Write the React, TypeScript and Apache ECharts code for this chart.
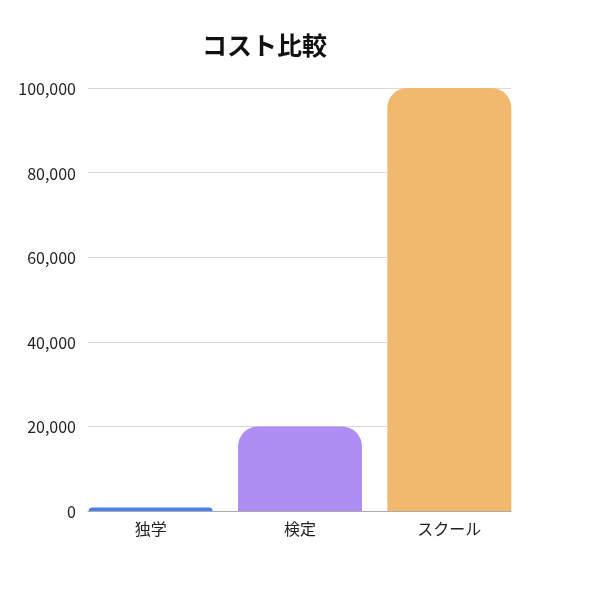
import { useEffect, useRef } from "react";
import * as echarts from "echarts";

const categories = ["独学", "検定", "スクール"];
const costs = [800, 20000, 100000];
const barColors = ["#4F7FEF", "#AF8EF3", "#F2B86D"];
const yTicks = [0, 20000, 40000, 60000, 80000, 100000];

const FONT = "'Noto Sans CJK JP', 'Noto Sans', sans-serif";

export default function App() {
  const ref = useRef<HTMLDivElement>(null);

  useEffect(() => {
    if (!ref.current) return;
    const chart = echarts.init(ref.current, undefined, { renderer: "svg" });
    const yMax = yTicks[yTicks.length - 1];

    chart.setOption({
      animation: false,
      textStyle: { fontFamily: FONT },
      title: {
        text: "コスト比較",
        left: 197,
        top: 26,
        textStyle: { fontSize: 25, fontWeight: "bold", color: "#111", fontFamily: FONT },
      },
      grid: [
        { left: 88, right: 89, top: 88, bottom: 89 },
        { left: 76, right: 76, top: 88, bottom: 89 },
      ],
      xAxis: [
        {
          type: "category",
          gridIndex: 0,
          data: categories,
          axisLabel: { show: false },
          axisTick: { show: false },
          axisLine: { show: true, lineStyle: { color: "#aaa", width: 1 } },
        },
        {
          type: "category",
          gridIndex: 1,
          data: categories,
          axisLine: { show: false },
          axisTick: { show: false },
          axisLabel: { color: "#222", fontSize: 16, margin: 9, fontFamily: FONT },
        },
      ],
      yAxis: [
        {
          type: "value",
          gridIndex: 0,
          min: 0,
          max: yMax,
          interval: 20000,
          axisLine: { show: false },
          axisTick: { show: false },
          axisLabel: {
            color: "#222",
            fontSize: 16,
            margin: 12,
            fontFamily: FONT,
            formatter: (v: number) => v.toLocaleString("en-US"),
          },
          splitLine: { lineStyle: { color: "#d9d9d9", width: 1 } },
        },
        {
          type: "value",
          gridIndex: 1,
          min: 0,
          max: yMax,
          show: false,
          splitLine: { show: false },
        },
      ],
      series: [
        {
          type: "bar",
          xAxisIndex: 1,
          yAxisIndex: 1,
          barWidth: 124,
          data: costs.map((v, i) => ({
            value: v,
            itemStyle: { color: barColors[i], borderRadius: [20, 20, 0, 0] },
          })),
          z: 3,
        },
      ],
    });

    return () => chart.dispose();
  }, []);

  return (
    <div
      ref={ref}
      style={{ position: "fixed", left: 0, top: 0, width: 600, height: 600 }}
    />
  );
}
